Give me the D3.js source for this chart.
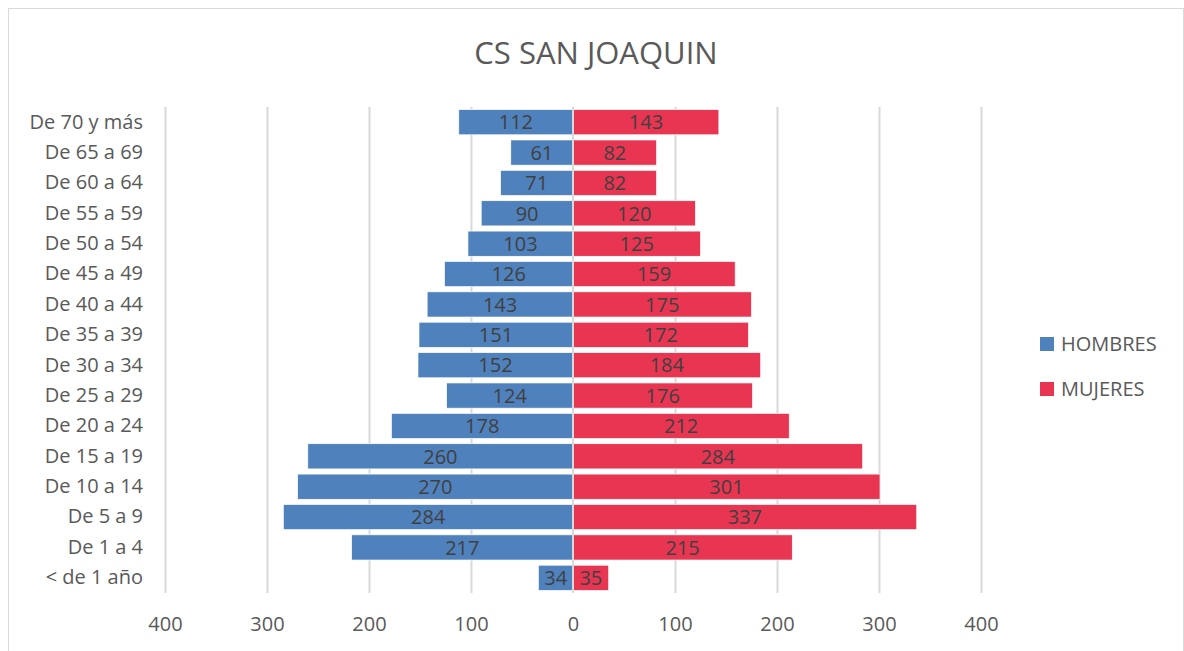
<!DOCTYPE html>
<html>
<head>
<meta charset="utf-8">
<script src="https://cdn.jsdelivr.net/npm/d3@7"></script>
<style>
  body { margin: 0; background: #fff; }
  svg text { font-family: "Open Sans", sans-serif; }
</style>
</head>
<body>
<svg id="chart" width="1184" height="651"></svg>
<script>
// age groups, top to bottom
const groups = ['De 70 y más', 'De 65 a 69', 'De 60 a 64', 'De 55 a 59', 'De 50 a 54',
  'De 45 a 49', 'De 40 a 44', 'De 35 a 39', 'De 30 a 34', 'De 25 a 29', 'De 20 a 24',
  'De 15 a 19', 'De 10 a 14', 'De 5 a 9', 'De 1 a 4', '< de 1 año'];
const hombres = [112, 61, 71, 90, 103, 126, 143, 151, 152, 124, 178, 260, 270, 284, 217, 34];
const mujeres = [143, 82, 82, 120, 125, 159, 175, 172, 184, 176, 212, 284, 301, 337, 215, 35];
const ticks = [-400, -300, -200, -100, 0, 100, 200, 300, 400];
const seriesNames = ['HOMBRES', 'MUJERES'];
const colors = ['#4F81BD', '#E83552'];

const svg = d3.select('#chart');

// chart border
svg.append('rect')
  .attr('x', 8.5).attr('y', 8.5)
  .attr('width', 1175).attr('height', 660)
  .attr('fill', 'none').attr('stroke', '#d9d9d9');

svg.append('text')
  .attr('x', 596).attr('y', 64)
  .attr('text-anchor', 'middle')
  .attr('font-size', 31)
  .attr('fill', '#595959')
  .text('CS SAN JOAQUIN');

const x = d3.scaleLinear().domain([-400, 400]).range([165, 981]);
const y = d3.scaleBand().domain(groups).range([107, 593]).paddingInner(0.17).paddingOuter(0.085);

// gridlines
svg.append('g').selectAll('line')
  .data(ticks.filter(t => t !== 0))
  .join('line')
  .attr('x1', d => x(d) + 0.5).attr('x2', d => x(d) + 0.5)
  .attr('y1', 107).attr('y2', 593)
  .attr('stroke', '#d9d9d9').attr('stroke-width', 2);

const rows = groups.map((g, i) => ({ g, h: hombres[i], m: mujeres[i] }));

svg.append('g').selectAll('rect')
  .data(rows)
  .join('rect')
  .attr('x', d => x(-d.h)).attr('y', d => y(d.g))
  .attr('width', d => x(0) - x(-d.h)).attr('height', y.bandwidth())
  .attr('fill', colors[0]).attr('stroke', '#fff').attr('stroke-width', 0.7);

svg.append('g').selectAll('rect')
  .data(rows)
  .join('rect')
  .attr('x', x(0)).attr('y', d => y(d.g))
  .attr('width', d => x(d.m) - x(0)).attr('height', y.bandwidth())
  .attr('fill', colors[1]).attr('stroke', '#fff').attr('stroke-width', 0.7);

// zero axis line
svg.append('line')
  .attr('x1', x(0)).attr('x2', x(0))
  .attr('y1', 107).attr('y2', 593)
  .attr('stroke', '#d9d9d9').attr('stroke-width', 2);

// data labels
const labels = svg.append('g')
  .attr('font-size', 20).attr('fill', '#404040').attr('text-anchor', 'middle');
labels.selectAll('text.h')
  .data(rows)
  .join('text').attr('class', 'h')
  .attr('x', d => (x(-d.h) + x(0)) / 2)
  .attr('y', d => y(d.g) + y.bandwidth() / 2)
  .attr('dy', '0.36em')
  .text(d => d.h);
labels.selectAll('text.m')
  .data(rows)
  .join('text').attr('class', 'm')
  .attr('x', d => (x(d.m) + x(0)) / 2)
  .attr('y', d => y(d.g) + y.bandwidth() / 2)
  .attr('dy', '0.36em')
  .text(d => d.m);

// category axis
const yAxis = svg.append('g')
  .attr('transform', 'translate(143,0)')
  .call(d3.axisLeft(y).tickSize(0).tickPadding(0));
yAxis.select('.domain').remove();
yAxis.selectAll('text').attr('font-size', 20).attr('fill', '#595959');

// value axis
const xAxis = svg.append('g')
  .attr('transform', 'translate(0,593)')
  .call(d3.axisBottom(x).tickValues(ticks).tickSize(0).tickPadding(24)
    .tickFormat(d => Math.abs(d)));
xAxis.select('.domain').remove();
xAxis.selectAll('text').attr('font-size', 20).attr('fill', '#595959');

// legend
const legend = svg.append('g').selectAll('g')
  .data(seriesNames)
  .join('g')
  .attr('transform', (d, i) => `translate(1040,${337 + i * 45})`);
legend.append('rect')
  .attr('width', 14).attr('height', 14)
  .attr('fill', (d, i) => colors[i]);
legend.append('text')
  .attr('x', 21).attr('y', 7).attr('dy', '0.36em')
  .attr('font-size', 20).attr('fill', '#595959')
  .text(d => d);
</script>
</body>
</html>
